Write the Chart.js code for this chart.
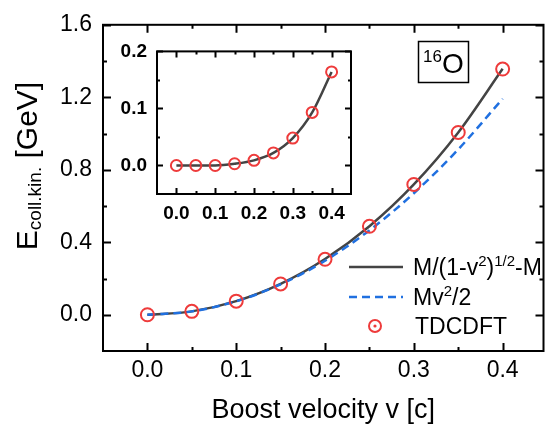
<!DOCTYPE html>
<html>
<head>
<meta charset="utf-8">
<script src="https://cdn.jsdelivr.net/npm/chart.js@4.4.1/dist/chart.umd.min.js"></script>
<style>
  html, body { margin: 0; padding: 0; background: #fff; overflow: hidden; }
  #wrap { position: relative; width: 552px; height: 429px; }
  #main { position: absolute; left: 0; top: 0; }
  #inset { position: absolute; left: 100px; top: 30px; }
</style>
</head>
<body>
<div id="wrap">
  <canvas id="main" width="552" height="429"></canvas>
  <canvas id="inset" width="270" height="200"></canvas>
</div>
<script>
// ---------- DATOS ----------
const velocity = [0, 0.05, 0.1, 0.15, 0.2, 0.25, 0.3, 0.35, 0.4];
const relativistic = [0, 0.0187, 0.0751, 0.1705, 0.3073, 0.4887, 0.7194, 1.0061, 1.3572];
const classical = [0, 0.0186, 0.0745, 0.1676, 0.298, 0.4656, 0.6705, 0.9126, 1.192];
const tdcdft = [0, 0.0187, 0.075, 0.170, 0.306, 0.488, 0.719, 1.006, 1.356];
const insetDiff = [0, 0, 0, 0.003, 0.009, 0.022, 0.048, 0.093, 0.164];

const xTicks = [0, 0.1, 0.2, 0.3, 0.4];
const xMinor = [0.05, 0.15, 0.25, 0.35];
const yTicks = [0, 0.4, 0.8, 1.2, 1.6];
const yMinor = [0.2, 0.6, 1.0, 1.4];
const insetYTicks = [0, 0.1, 0.2];
const insetYMinor = [0.05, 0.15];

const FONT = "'Liberation Sans', Arial, Helvetica, sans-serif";
const GRAY = '#444444';
const BLUE = '#2070e0';
const RED = '#ee3b3b';

function pairs(xs, ys) {
  return xs.map((x, i) => ({ x: x, y: ys[i] }));
}

// texto con sub/superindices
function drawRich(ctx, parts, x, y) {
  let w = 0;
  parts.forEach(p => { ctx.font = p.f + 'px ' + FONT; w += ctx.measureText(p.t).width; });
  let cx = x;
  parts.forEach(p => {
    ctx.font = p.f + 'px ' + FONT;
    ctx.fillText(p.t, cx, y + (p.dy || 0));
    cx += ctx.measureText(p.t).width;
  });
  return w;
}
function richWidth(ctx, parts) {
  let w = 0;
  parts.forEach(p => { ctx.font = p.f + 'px ' + FONT; w += ctx.measureText(p.t).width; });
  return w;
}

// ---------- MARCO Y TICKS HACIA DENTRO ----------
const frameTicks = {
  id: 'frameTicks',
  afterDraw(chart, args, o) {
    const ctx = chart.ctx;
    const { left, right, top, bottom } = chart.chartArea;
    const sx = chart.scales.x, sy = chart.scales.y;
    ctx.save();
    ctx.strokeStyle = '#000';
    ctx.lineWidth = o.lw;
    ctx.beginPath();
    const vx = (vals, len) => vals.forEach(v => {
      const p = Math.round(sx.getPixelForValue(v)) + 0.5;
      ctx.moveTo(p, bottom); ctx.lineTo(p, bottom - len);
      ctx.moveTo(p, top); ctx.lineTo(p, top + len);
    });
    const vy = (vals, len) => vals.forEach(v => {
      const p = Math.round(sy.getPixelForValue(v)) + 0.5;
      ctx.moveTo(left, p); ctx.lineTo(left + len, p);
      ctx.moveTo(right, p); ctx.lineTo(right - len, p);
    });
    vx(o.xMajor, o.major); vx(o.xMinor, o.minor);
    vy(o.yMajor, o.major); vy(o.yMinor, o.minor);
    ctx.stroke();
    ctx.strokeRect(left, top, right - left, bottom - top);
    ctx.restore();
  }
};

// ---------- TITULO Y, LEYENDA, ETIQUETA ----------
const annot = {
  id: 'annot',
  afterDraw(chart) {
    const ctx = chart.ctx;
    ctx.save();
    ctx.fillStyle = '#000';
    ctx.textBaseline = 'alphabetic';

    // titulo eje y
    const yt = [{ t: 'E', f: 30 }, { t: 'coll.kin.', f: 19, dy: 4 }, { t: ' [GeV]', f: 30 }];
    ctx.save();
    ctx.translate(37, 166);
    ctx.rotate(-Math.PI / 2);
    drawRich(ctx, yt, -richWidth(ctx, yt) / 2, 0);
    ctx.restore();

    // leyenda
    ctx.lineWidth = 2.5;
    ctx.strokeStyle = GRAY;
    ctx.beginPath(); ctx.moveTo(349, 267); ctx.lineTo(403, 267); ctx.stroke();
    ctx.strokeStyle = BLUE;
    ctx.setLineDash([8, 5]);
    ctx.beginPath(); ctx.moveTo(349, 297); ctx.lineTo(403, 297); ctx.stroke();
    ctx.setLineDash([]);
    ctx.strokeStyle = RED;
    ctx.lineWidth = 2;
    ctx.beginPath(); ctx.arc(375, 326, 6, 0, Math.PI * 2); ctx.stroke();
    ctx.fillStyle = RED;
    ctx.beginPath(); ctx.arc(375, 326, 1.6, 0, Math.PI * 2); ctx.fill();

    ctx.fillStyle = '#000';
    drawRich(ctx, [
      { t: 'M/(1-v', f: 23 }, { t: '2', f: 15, dy: -9 }, { t: ')', f: 23 },
      { t: '1/2', f: 15, dy: -9 }, { t: '-M', f: 23 }
    ], 413, 275);
    drawRich(ctx, [{ t: 'Mv', f: 23 }, { t: '2', f: 15, dy: -9 }, { t: '/2', f: 23 }], 413, 305);
    drawRich(ctx, [{ t: 'TDCDFT', f: 23 }], 415, 334);

    // caja 16O
    ctx.strokeStyle = '#000';
    ctx.lineWidth = 1.5;
    ctx.strokeRect(418.5, 41.5, 50, 41);
    drawRich(ctx, [{ t: '16', f: 17, dy: -11 }, { t: 'O', f: 28 }], 423, 73);
    ctx.restore();
  }
};

// ---------- GRAFICO PRINCIPAL ----------
new Chart(document.getElementById('main'), {
  type: 'line',
  data: {
    datasets: [
      {
        label: 'TDCDFT',
        data: pairs(velocity, tdcdft),
        showLine: false,
        pointStyle: 'circle',
        pointRadius: 6.5,
        pointBorderWidth: 2,
        pointBorderColor: RED,
        pointBackgroundColor: 'rgba(0,0,0,0)',
        order: 0
      },
      {
        label: 'Mv2/2',
        data: pairs(velocity, classical),
        borderColor: BLUE,
        borderWidth: 2.5,
        borderDash: [8, 5],
        pointRadius: 0,
        cubicInterpolationMode: 'monotone',
        order: 1
      },
      {
        label: 'M/(1-v2)1/2-M',
        data: pairs(velocity, relativistic),
        borderColor: GRAY,
        borderWidth: 2.5,
        pointRadius: 0,
        cubicInterpolationMode: 'monotone',
        order: 2
      }
    ]
  },
  options: {
    responsive: false,
    devicePixelRatio: 1,
    animation: false,
    layout: { padding: { left: 0, right: 1, top: 13, bottom: 0 } },
    plugins: {
      legend: { display: false },
      tooltip: { enabled: false },
      frameTicks: { lw: 2, major: 8, minor: 4, xMajor: xTicks, xMinor: xMinor, yMajor: yTicks, yMinor: yMinor }
    },
    scales: {
      x: {
        type: 'linear',
        min: -0.05,
        max: 0.446,
        afterBuildTicks: s => { s.ticks = xTicks.map(v => ({ value: v })); },
        afterFit: s => { s.height = 78; },
        grid: { display: false, drawTicks: false },
        border: { display: false },
        ticks: { padding: 6, color: '#000', font: { family: FONT, size: 23 }, callback: v => v.toFixed(1) },
        title: { display: true, text: 'Boost velocity v [c]', color: '#000', font: { family: FONT, size: 27 }, padding: { top: 0, bottom: 2 } }
      },
      y: {
        type: 'linear',
        min: -0.2,
        max: 1.6,
        afterBuildTicks: s => { s.ticks = yTicks.map(v => ({ value: v })); },
        afterFit: s => { s.width = 103; },
        grid: { display: false, drawTicks: false },
        border: { display: false },
        ticks: { padding: 11, color: '#000', font: { family: FONT, size: 23 }, callback: v => v.toFixed(1) }
      }
    }
  },
  plugins: [frameTicks, annot]
});

// ---------- INSERTO ----------
new Chart(document.getElementById('inset'), {
  type: 'line',
  data: {
    datasets: [
      {
        label: 'TDCDFT',
        data: pairs(velocity, insetDiff),
        showLine: false,
        pointRadius: 5.5,
        pointBorderWidth: 2,
        pointBorderColor: RED,
        pointBackgroundColor: 'rgba(0,0,0,0)',
        order: 0
      },
      {
        label: 'diff',
        data: pairs(velocity, insetDiff),
        borderColor: GRAY,
        borderWidth: 2.5,
        pointRadius: 0,
        cubicInterpolationMode: 'monotone',
        order: 1
      }
    ]
  },
  options: {
    responsive: false,
    devicePixelRatio: 1,
    animation: false,
    layout: { padding: { left: 0, right: 19, top: 20, bottom: 0 } },
    plugins: {
      legend: { display: false },
      tooltip: { enabled: false },
      frameTicks: { lw: 2, major: 6, minor: 3, xMajor: xTicks, xMinor: xMinor, yMajor: insetYTicks, yMinor: insetYMinor }
    },
    scales: {
      x: {
        type: 'linear',
        min: -0.05,
        max: 0.45,
        afterBuildTicks: s => { s.ticks = xTicks.map(v => ({ value: v })); },
        afterFit: s => { s.height = 36; },
        grid: { display: false, drawTicks: false },
        border: { display: false },
        ticks: { padding: 8, color: '#000', font: { family: FONT, size: 19, weight: 'bold' }, callback: v => v.toFixed(1) }
      },
      y: {
        type: 'linear',
        min: -0.05,
        max: 0.2,
        afterBuildTicks: s => { s.ticks = insetYTicks.map(v => ({ value: v })); },
        afterFit: s => { s.width = 57; },
        grid: { display: false, drawTicks: false },
        border: { display: false },
        ticks: { padding: 10, color: '#000', font: { family: FONT, size: 19, weight: 'bold' }, callback: v => v.toFixed(1) }
      }
    }
  },
  plugins: [frameTicks]
});
</script>
</body>
</html>
